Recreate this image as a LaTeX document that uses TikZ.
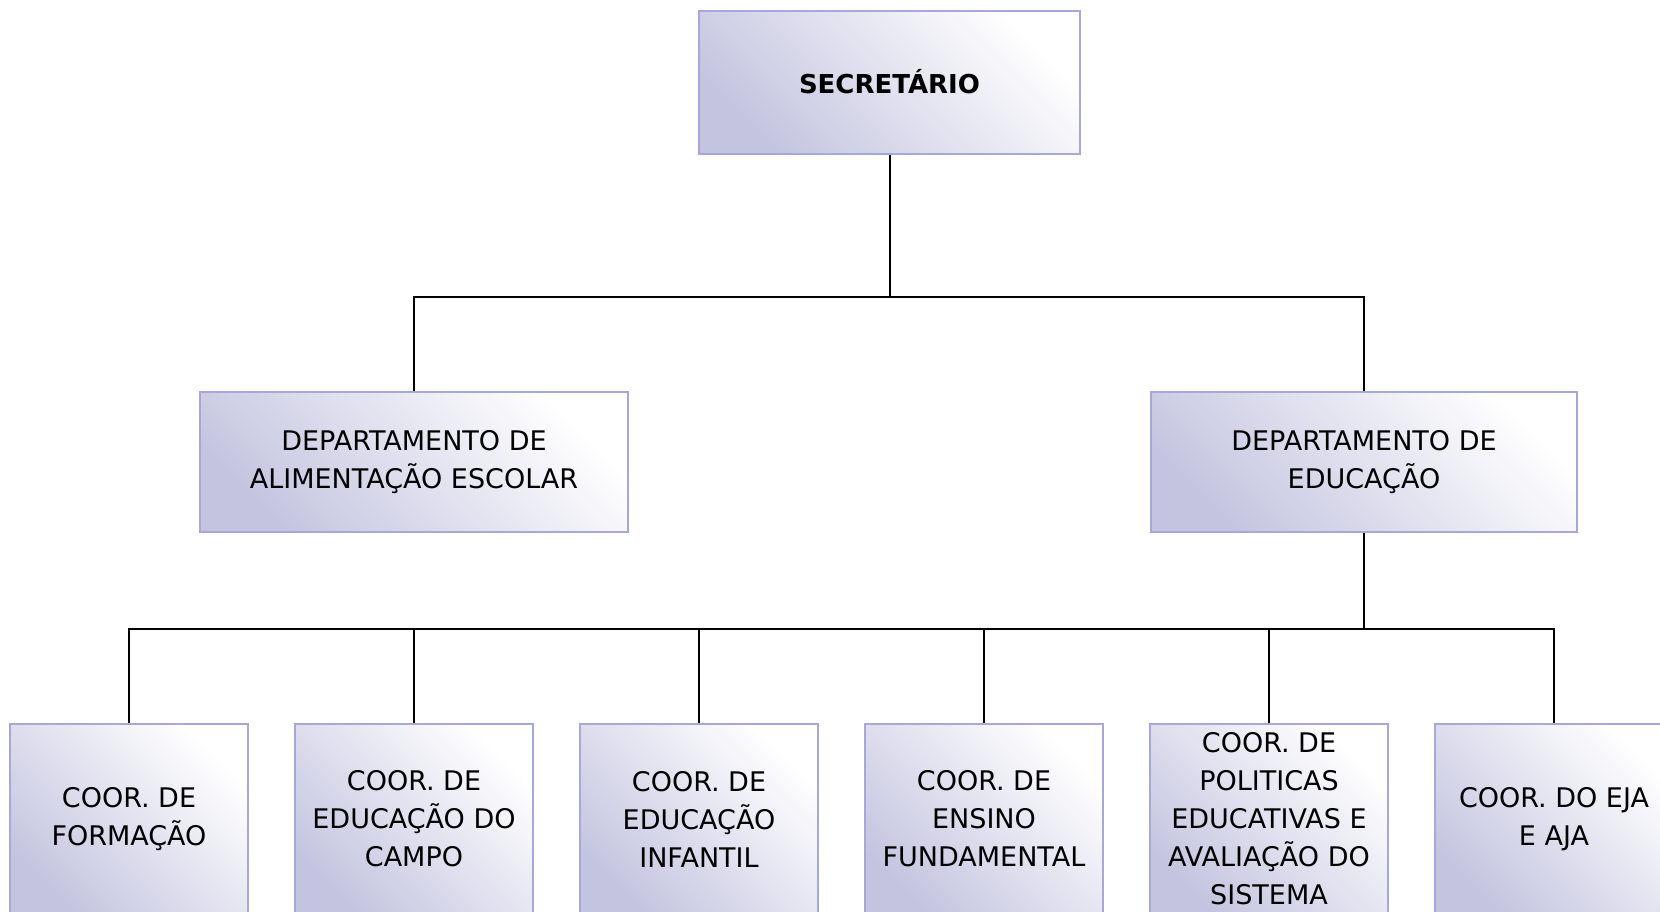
\documentclass[tikz,border=0pt]{standalone}
\usepackage{fontspec}
\setmainfont{DejaVu Sans}
\usepackage{tikz}

\definecolor{lavborda}{RGB}{168,168,214}
\definecolor{lavfundo}{RGB}{196,196,224}

\begin{document}
\begin{tikzpicture}[x=0.5pt, y=-0.5pt, node distance = 142.5pt,
    caixa/.style = {draw=lavborda, line width=1pt, top color=white, bottom color=lavfundo,
                    shading angle=-45, align=center, inner sep=2pt,
                    font=\fontsize{13.5}{19}\selectfont},
    coord/.style = {caixa, minimum width=118.75pt, minimum height=95pt},
    linha/.style = {line width=1pt}]
    \useasboundingbox (0,0) rectangle (1660,911);

    \node (S) [caixa, minimum width=190.5pt, minimum height=71.5pt,
               font=\fontsize{13}{16}\selectfont\bfseries] at (889.5,82) {SECRETÁRIO};
    \node (DA) [caixa, minimum width=214pt, minimum height=70pt] at (414,462)
          {DEPARTAMENTO DE\\ALIMENTAÇÃO ESCOLAR};
    \node (DE) [caixa, minimum width=213pt, minimum height=70pt] at (1364,462)
          {DEPARTAMENTO DE\\EDUCAÇÃO};

    \node (C1) [coord] at (129,819) {COOR. DE\\FORMAÇÃO};
    \node (C2) [coord, right of = C1] {COOR. DE\\EDUCAÇÃO DO\\CAMPO};
    \node (C3) [coord, right of = C2] {COOR. DE\\EDUCAÇÃO\\INFANTIL};
    \node (C4) [coord, right of = C3] {COOR. DE\\ENSINO\\FUNDAMENTAL};
    \node (C5) [coord, right of = C4] {COOR. DE\\POLITICAS\\EDUCATIVAS E\\AVALIAÇÃO DO\\SISTEMA};
    \node (C6) [coord, right of = C5] {COOR. DO EJA\\E AJA};

    \coordinate (J1) at (889.5,296.5);
    \coordinate (J2) at (1364,629);

    \draw[linha] (S) -- (J1);
    \draw[linha] (DA.north) |- (J1) -| (DE.north);
    \draw[linha] (DE) -- (J2);
    \foreach \c in {C1,C2,C3,C4,C5,C6}
        \draw[linha] (\c.north) |- (J2);
\end{tikzpicture}
\end{document}
